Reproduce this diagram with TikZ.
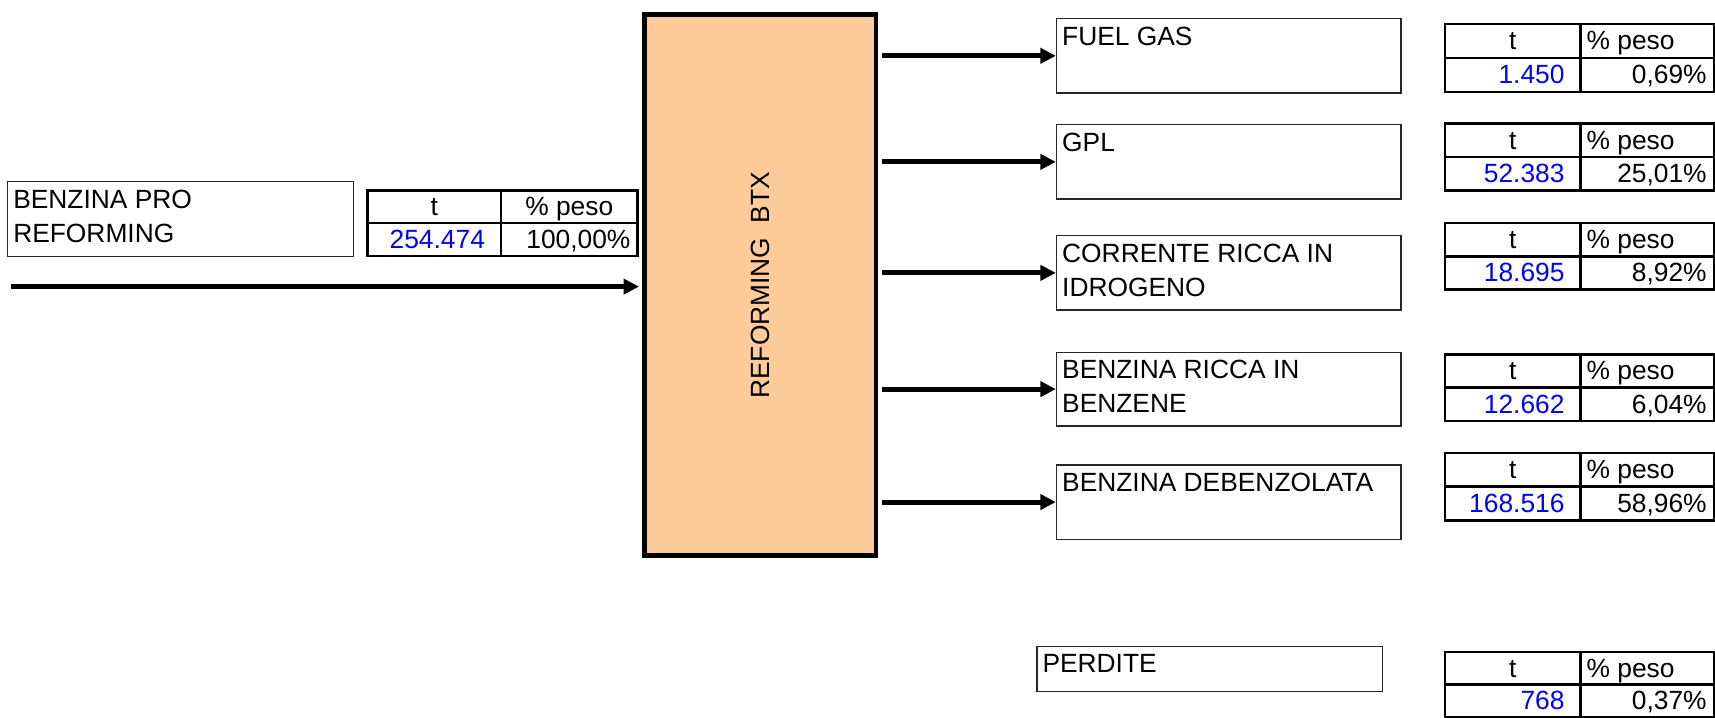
\documentclass[tikz,border=0pt]{standalone}
\usepackage{fontspec}
\setmainfont{Liberation Sans}
\usetikzlibrary{arrows.meta, positioning, fit}
\definecolor{mPeach}{HTML}{FFCC99}
\definecolor{mValueBlue}{HTML}{0000FF}

% t / % peso table: [c = centred header] x, top, col widths, row height, tonnes, percent
\newcommand{\pesotab}[8][l]{%
  \draw[tabline] (#2,#3) rectangle ++(#4+#5,2*#6);
  \draw[tabline] (#2,#3+#6) -- ++(#4+#5,0);
  \draw[tabline] (#2+#4,#3) -- ++(0,2*#6);
  \node[tabtext, anchor=base] (tab#3t) at (#2+0.5*#4,#3+0.5*#6+8) {t};
  \if#1c
    \node[tabtext, anchor=base] (tab#3p) at (#2+#4+0.5*#5,#3+0.5*#6+8) {\% peso};
  \else
    \node[tabtext, anchor=base west] (tab#3p) at (#2+#4+5,#3+0.5*#6+8) {\% peso};
  \fi
  \node[tabtext, anchor=base east, mValueBlue] (tab#3v) at (#2+#4-14,#3+1.5*#6+8) {#7};
  \node[tabtext, anchor=base east] (tab#3q) at (#2+#4+#5-6,#3+1.5*#6+8) {#8};
}

\begin{document}
\begin{tikzpicture}[x=0.010938cm, y=-0.010938cm,
    font=\fontsize{7.5}{9.6}\selectfont,
    outbox/.style={draw=black!85, line width=0.4pt, inner sep=0pt},
    boxtext/.style={anchor=north west, align=left, inner sep=0pt},
    reactor/.style={draw, fill=mPeach, line width=1.35pt, inner sep=0pt},
    tabline/.style={line width=0.75pt},
    tabtext/.style={inner sep=0pt},
    flow/.style={line width=1.4pt, -{Triangle[length=0.155cm, width=0.15cm]}}]
    \useasboundingbox (0,0) rectangle (1568,656);
    % Feed
    \node[outbox, fit={(7,166) (323,234.5)}] (feedbox) {};
    \node[boxtext] (feedtxt) at (11.5,173) {BENZINA PRO\\REFORMING};
    \pesotab[c]{336}{174}{122}{125}{30}{254.474}{100,00\%}
    % Reforming unit
    \node[reactor, fit={(589,13.5) (801,508)}] (btx) {};
    \node[rotate=90] (btxtxt) at (btx.center) {REFORMING\ \ BTX};
    % Products
    \node[outbox, fit={(966,17) (1281,85)}] (fuel) {};
    \node[boxtext] (fueltxt) at (970.5,24) {FUEL GAS};
    \node[outbox, fit={(966,114) (1281,182)}] (gpl) {};
    \node[boxtext] (gpltxt) at (970.5,121) {GPL};
    \node[outbox, fit={(966,215.5) (1281,283.5)}] (hydro) {};
    \node[boxtext] (hydrotxt) at (970.5,222.5) {CORRENTE RICCA IN\\IDROGENO};
    \node[outbox, fit={(966,322) (1281,389.5)}] (benz) {};
    \node[boxtext] (benztxt) at (970.5,329) {BENZINA RICCA IN\\BENZENE};
    \node[outbox, fit={(966,425) (1281,493)}] (debenz) {};
    \node[boxtext] (debenztxt) at (970.5,432) {BENZINA DEBENZOLATA};
    \node[outbox, fit={(948,591) (1264,632)}] (loss) {};
    \node[boxtext] (losstxt) at (952.5,598) {PERDITE};
    % Tables
    \pesotab{1321}{22}{124}{122}{31}{1.450}{0,69\%}
    \pesotab{1321}{113}{124}{122}{30.5}{52.383}{25,01\%}
    \pesotab{1321}{204}{124}{122}{30.25}{18.695}{8,92\%}
    \pesotab{1321}{324}{124}{122}{30.5}{12.662}{6,04\%}
    \pesotab{1321}{414}{124}{122}{31}{168.516}{58,96\%}
    \pesotab{1321}{596}{124}{122}{30}{768}{0,37\%}
    % Flows
    \coordinate (feed) at (10,262);
    \draw[flow, shorten >=0.8pt] (feed) -- (feed -| btx.west);
    \draw[flow, shorten <=1pt] (btx.east |- fuel.west) -- (fuel.west);
    \draw[flow, shorten <=1pt] (btx.east |- gpl.west) -- (gpl.west);
    \draw[flow, shorten <=1pt] (btx.east |- hydro.west) -- (hydro.west);
    \draw[flow, shorten <=1pt] (btx.east |- benz.west) -- (benz.west);
    \draw[flow, shorten <=1pt] (btx.east |- debenz.west) -- (debenz.west);
\end{tikzpicture}
\end{document}
